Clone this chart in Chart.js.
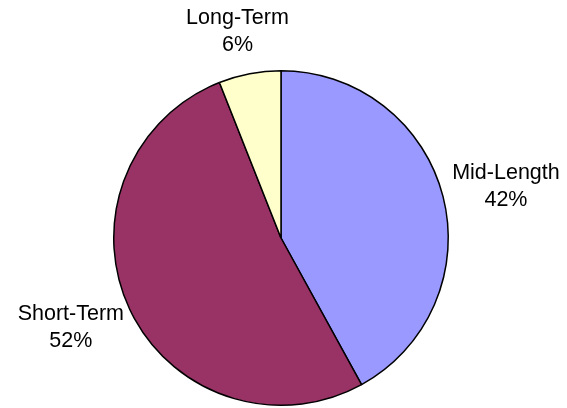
<!DOCTYPE html>
<html>
<head>
<meta charset="utf-8">
<script src="https://cdn.jsdelivr.net/npm/chart.js@4/dist/chart.umd.min.js"></script>
<style>
  html, body { margin: 0; padding: 0; background: #fff; }
  #wrap { width: 567px; height: 408px; }
</style>
</head>
<body>
<div id="wrap"><canvas id="chart"></canvas></div>
<script>
// Pie data
const categories = ["Mid-Length", "Short-Term", "Long-Term"];
const shares = [42, 52, 6];
const sliceColors = ["#9999FF", "#993366", "#FFFFCC"];

// labels outside each slice: name on one line, percent below
const outsideLabels = {
    id: "outsideLabels",
    afterDatasetsDraw(chart) {
        const ctx = chart.ctx;
        const meta = chart.getDatasetMeta(0);
        ctx.save();
        ctx.font = "21.5px 'Liberation Sans', Arial, sans-serif";
        ctx.fillStyle = "#000";
        ctx.textAlign = "center";
        ctx.textBaseline = "middle";
        meta.data.forEach((arc, i) => {
            const mid = (arc.startAngle + arc.endAngle) / 2;
            // labels sit on an ellipse a bit wider than the pie
            const x = arc.x + Math.cos(mid) * (arc.outerRadius + 65);
            const y = arc.y + Math.sin(mid) * (arc.outerRadius + 43);
            ctx.fillText(categories[i], x, y - 13);
            ctx.fillText(shares[i] + "%", x, y + 14);
        });
        ctx.restore();
    }
};

const chart = document.querySelector("#chart").getContext("2d");

new Chart(chart, {
    type: "pie",
    data: {
        labels: categories,
        datasets: [
            {
                data: shares,
                backgroundColor: sliceColors,
                borderColor: "#000",
                borderWidth: 1.5,
            }
        ]
    },
    options: {
        responsive: true,
        maintainAspectRatio: false,
        animation: false,
        layout: {
            padding: { left: 113, right: 118, top: 70, bottom: 2 }
        },
        plugins: {
            legend: { display: false },
            tooltip: { enabled: false }
        }
    },
    plugins: [outsideLabels]
})
</script>
</body>
</html>
